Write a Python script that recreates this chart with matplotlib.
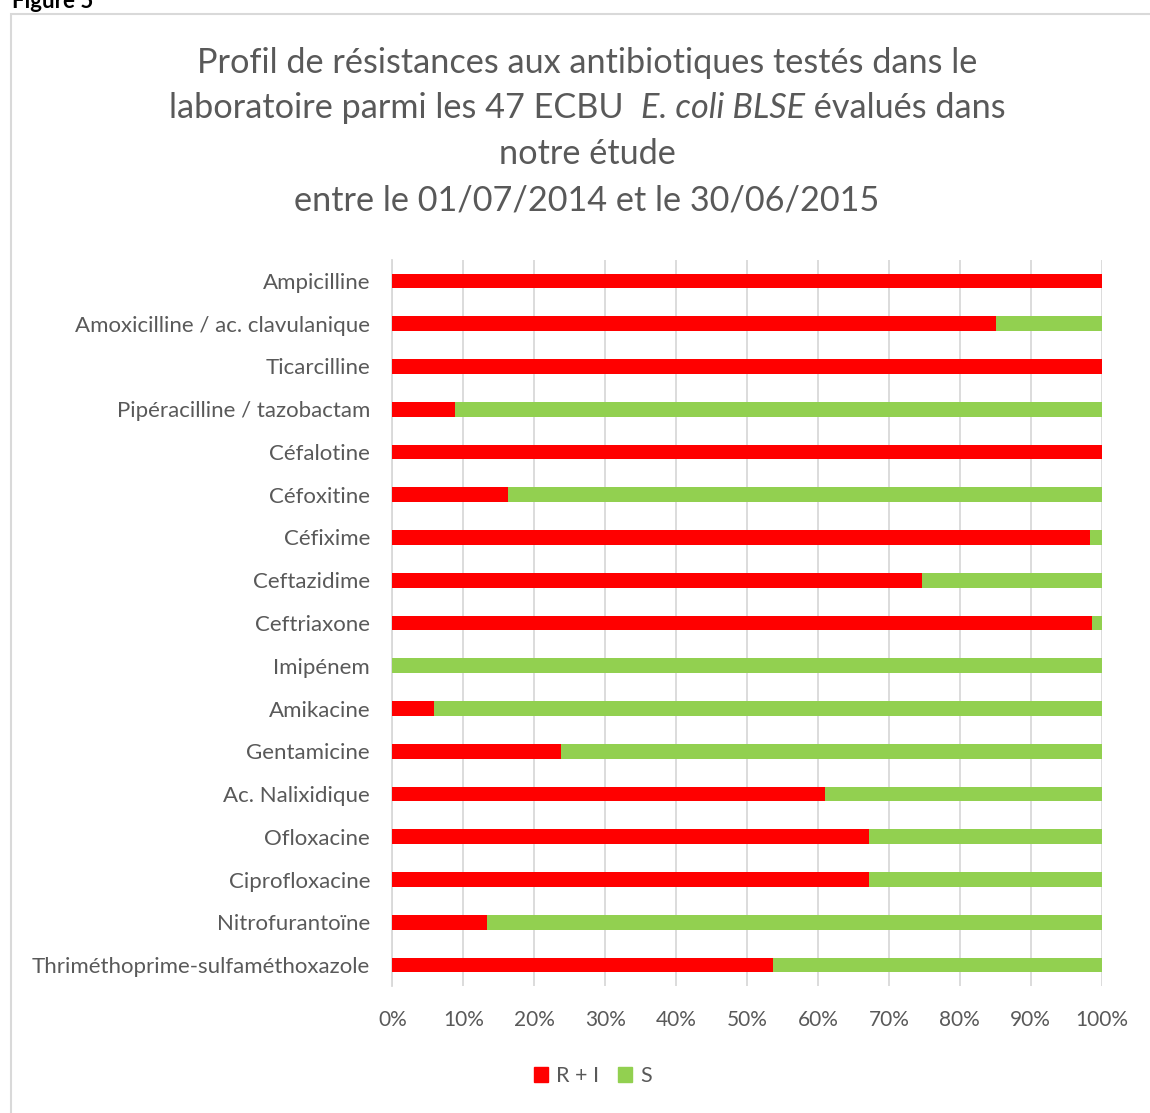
import matplotlib
matplotlib.use("Agg")
import matplotlib.pyplot as plt
from matplotlib.patches import Rectangle, Patch
import numpy as np

categories = [
    "Ampicilline",
    "Amoxicilline / ac. clavulanique",
    "Ticarcilline",
    "Pipéracilline / tazobactam",
    "Céfalotine",
    "Céfoxitine",
    "Céfixime",
    "Ceftazidime",
    "Ceftriaxone",
    "Imipénem",
    "Amikacine",
    "Gentamicine",
    "Ac. Nalixidique",
    "Ofloxacine",
    "Ciprofloxacine",
    "Nitrofurantoïne",
    "Thriméthoprime-sulfaméthoxazole",
]
r_plus_i = [100.0, 85.1, 100.0, 8.8, 100.0, 16.3, 98.3, 74.6, 98.6, 0.0,
            5.9, 23.8, 61.0, 67.2, 67.2, 13.3, 53.7]
s_values = [100.0 - v for v in r_plus_i]
series_names = ["R + I", "S"]
x_ticks = [0, 10, 20, 30, 40, 50, 60, 70, 80, 90, 100]
x_tick_labels = [f"{t}%" for t in x_ticks]

RED = "#FF0000"
GREEN = "#92D050"
GRAY = "#595959"
GRID = "#D9D9D9"
FONT = ["Lato", "DejaVu Sans"]

plt.rcParams["font.family"] = FONT

W, H = 1150, 1113
fig = plt.figure(figsize=(W / 100, H / 100), dpi=100)

# outer chart border
fig.patches.append(Rectangle((11 / W, -0.05), 1.2, 1 - 14 / H + 0.05,
                             transform=fig.transFigure, fill=False,
                             edgecolor=GRID, linewidth=1.5, zorder=0))
fig.text(12 / W, 1 - 8 / H, "Figure 5", fontsize=16, fontweight="bold",
         color="black", ha="left", va="baseline")

ax = fig.add_axes([392.3 / W, 1 - 986.4 / H, (1101.7 - 392.3) / W,
                   (986.4 - 259.6) / H])
y = np.arange(len(categories))
ax.barh(y, r_plus_i, height=0.345, color=RED, label=series_names[0], zorder=3)
ax.barh(y, s_values, left=r_plus_i, height=0.345, color=GREEN,
        label=series_names[1], zorder=3)
ax.set_ylim(len(categories) - 0.5, -0.5)
ax.set_xlim(0, 100)
ax.set_yticks(y)
ax.set_yticklabels(categories, fontsize=16, color=GRAY)
ax.set_xticks(x_ticks)
ax.set_xticklabels(x_tick_labels, fontsize=15, color=GRAY)
ax.tick_params(axis="both", length=0)
ax.tick_params(axis="y", pad=16)
ax.tick_params(axis="x", pad=17)
ax.grid(axis="x", color=GRID, linewidth=1.3, zorder=0)
for s in ["top", "right", "bottom"]:
    ax.spines[s].set_visible(False)
ax.spines["left"].set_color(GRID)
ax.spines["left"].set_linewidth(1.3)

# Title
cx = 587 / W
tsize = 24.7
fig.text(cx, 1 - 63 / H, "Profil de résistances aux antibiotiques testés dans le",
         fontsize=tsize, color=GRAY, ha="center", va="center")
fig.text(cx, 1 - 154 / H, "notre étude", fontsize=tsize, color=GRAY,
         ha="center", va="center")
fig.text(cx, 1 - 200 / H, "entre le 01/07/2014 et le 30/06/2015",
         fontsize=tsize, color=GRAY, ha="center", va="center")

# mixed-style second line
parts = [("laboratoire parmi les 47 ECBU  ", "normal"),
         ("E. coli BLSE", "italic"),
         (" évalués dans", "normal")]
renderer = fig.canvas.get_renderer()
texts = []
for s, st in parts:
    t = fig.text(0, 1 - 108 / H, s, fontsize=tsize, color=GRAY, style=st,
                 ha="left", va="center")
    texts.append(t)
widths = [t.get_window_extent(renderer).width / W for t in texts]
x0 = cx - sum(widths) / 2
for t, w in zip(texts, widths):
    t.set_x(x0)
    x0 += w

# Legend
handles = [Patch(color=RED), Patch(color=GREEN)]
fig.legend(handles, series_names, loc="center", bbox_to_anchor=(593 / W, 1 - 1076 / H),
           ncol=2, frameon=False, fontsize=15.5, labelcolor=GRAY,
           handlelength=0.65, handleheight=0.65, handletextpad=0.35,
           columnspacing=0.9)

fig.savefig("out.png", dpi=100)
